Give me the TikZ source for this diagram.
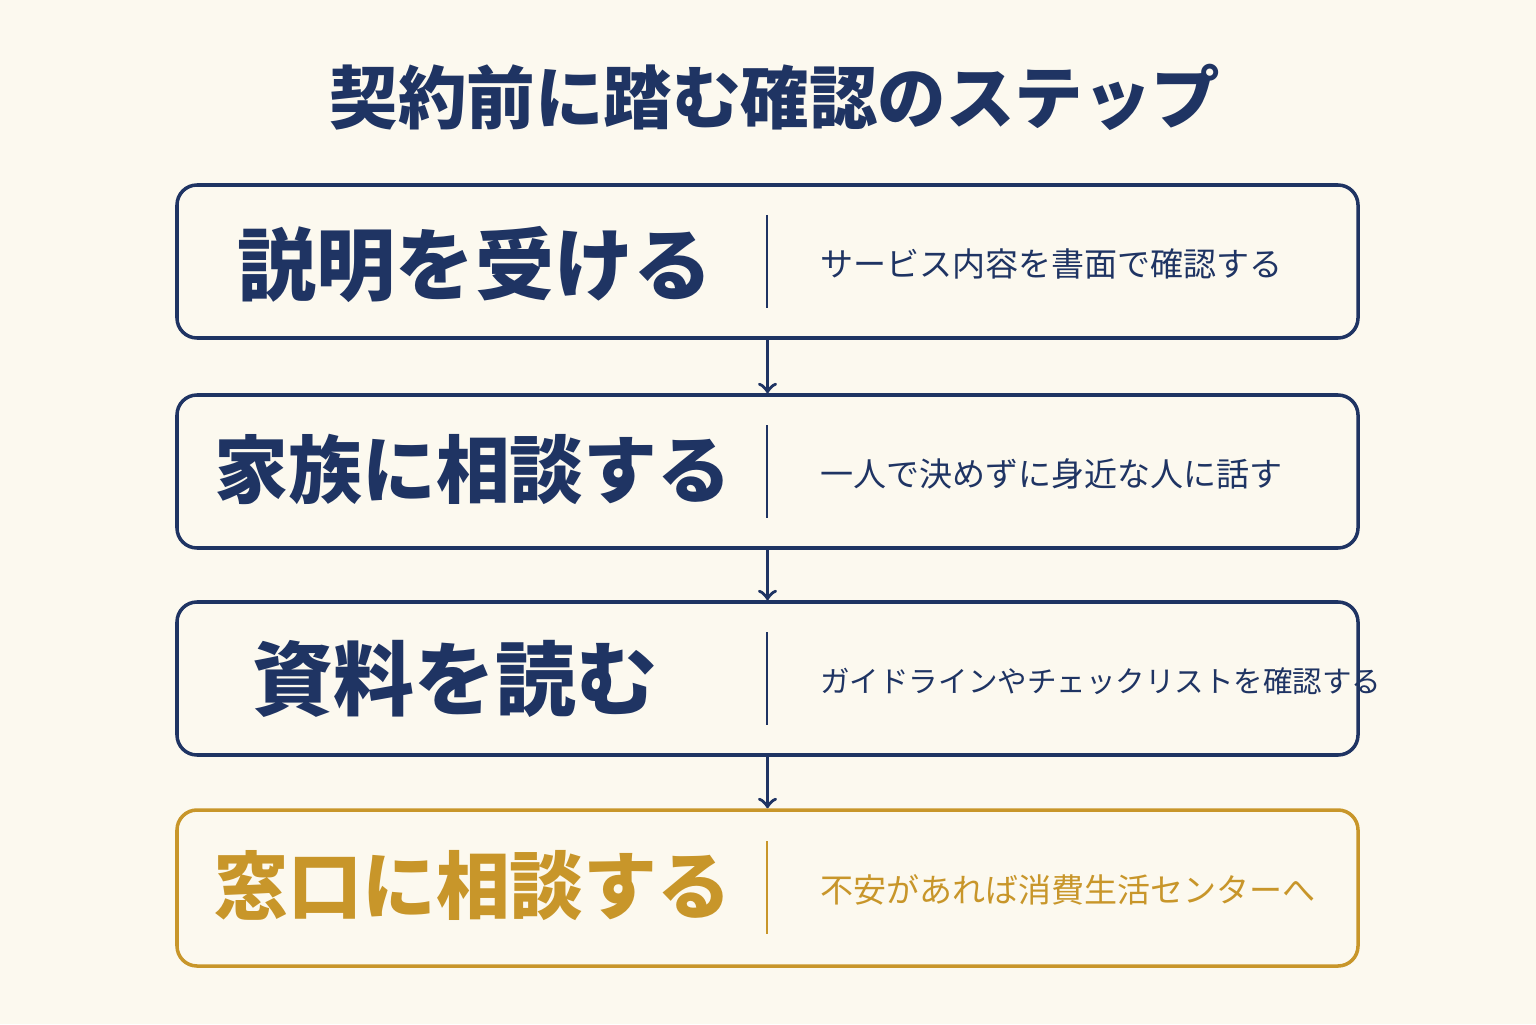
\documentclass[tikz,border=0pt]{standalone}
\usepackage{fontspec}
\setmainfont{Noto Sans CJK JP}
\usetikzlibrary{arrows}
\definecolor{navy}{HTML}{1F3463}
\definecolor{gold}{HTML}{C8962A}
\definecolor{paper}{HTML}{FCF9EF}
\tikzstyle{stepbox}=[rectangle,rounded corners=0.2cm,minimum width=11.81cm,
minimum height=1.53cm,draw=navy,line width=1pt]
\tikzstyle{head}=[font=\fontsize{21}{24}\selectfont\bfseries,text=navy,anchor=center]
\tikzstyle{note}=[font=\fontsize{9.4}{11}\selectfont,text=navy,anchor=west]
\tikzstyle{arrow}=[navy,line width=1pt,->,>=to]
\begin{document}
\begin{tikzpicture}
    \fill[paper] (0,0) rectangle (15.36,10.24);
    \useasboundingbox (0,0) rectangle (15.36,10.24);
        \node (title) [font=\fontsize{19.5}{22}\selectfont\bfseries,text=navy] at (7.75,9.27) {契約前に踏む確認のステップ};

        \node (s1) [stepbox] at (7.675,7.625) {};
        \node (s2) [stepbox] at (7.675,5.525) {};
        \node (s3) [stepbox] at (7.675,3.455) {};
        \node (s4) [stepbox,draw=gold,minimum height=1.56cm] at (7.675,1.36) {};

        \node (h1) [head,font=\fontsize{22.5}{24}\selectfont\bfseries] at (4.75,7.6) {説明を受ける};
        \node (h2) [head] at (4.73,5.55) {家族に相談する};
        \node (h3) [head,font=\fontsize{23}{24}\selectfont\bfseries] at (4.55,3.45) {資料を読む};
        \node (h4) [head,text=gold] at (4.73,1.38) {窓口に相談する};

        \node (n1) [note] at (8.08,7.6) {サービス内容を書面で確認する};
        \node (n2) [note] at (8.08,5.5) {一人で決めずに身近な人に話す};
        \node (n3) [note,font=\fontsize{8.4}{10}\selectfont] at (8.08,3.43) {ガイドラインやチェックリストを確認する};
        \node (n4) [note,text=gold] at (8.08,1.34) {不安があれば消費生活センターへ};

        \draw [navy,line width=0.8pt] (7.67,8.09) -- (7.67,7.16);
        \draw [navy,line width=0.8pt] (7.67,5.99) -- (7.67,5.06);
        \draw [navy,line width=0.8pt] (7.67,3.92) -- (7.67,2.99);
        \draw [gold,line width=0.8pt] (7.67,1.83) -- (7.67,0.9);

        \draw [arrow] (s1.south) -- (s2.north);
        \draw [arrow] (s2.south) -- (s3.north);
        \draw [arrow] (s3.south) -- (s4.north);
    \end{tikzpicture}
\end{document}
